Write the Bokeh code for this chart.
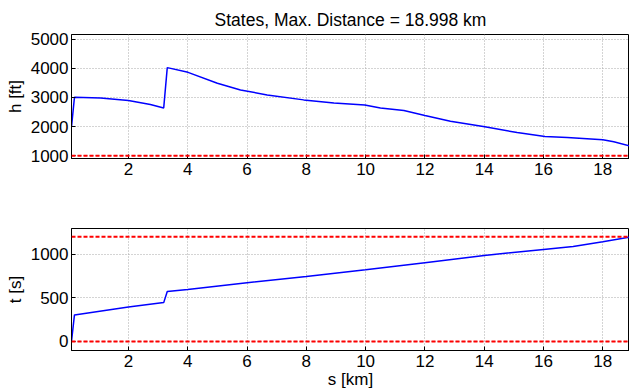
from bokeh.plotting import figure
from bokeh.layouts import column
from bokeh.models import FixedTicker, Span, Range1d
from bokeh.embed import file_html
from bokeh.resources import INLINE

# ---- data ----
title_text = "States, Max. Distance = 18.998 km"
s_h = [0.08, 0.18, 1.06, 2.0, 2.74, 3.19, 3.31, 4.01, 5.0, 5.78, 6.68, 7.91, 8.93,
       9.97, 10.5, 11.29, 12.0, 12.86, 14.02, 15.11, 16.05, 16.8, 18.0, 18.37, 18.998]
h_ft = [1993, 3007, 2986, 2894, 2757, 2643, 4024, 3863, 3486, 3260, 3089, 2918, 2815,
        2746, 2643, 2551, 2380, 2185, 1993, 1798, 1661, 1627, 1548, 1479, 1317]
s_t = [0.08, 0.18, 2.0, 3.19, 3.31, 4.0, 6.0, 8.0, 10.0, 12.0, 14.0, 16.0, 17.0, 18.0, 18.998]
t_s = [0, 304, 395, 445, 571, 594, 673, 745, 822, 902, 985, 1054, 1088, 1142, 1200]
h_limits = [1000]
t_limits = [0, 1200]
x_ticks = [2, 4, 6, 8, 10, 12, 14, 16, 18]
h_ticks = [1000, 2000, 3000, 4000, 5000]
t_ticks = [0, 500, 1000]

FONT = "Liberation Sans"
XR = (0.08, 18.9)


def style(p, yticks, ylabel, xlabel=None):
    p.background_fill_color = "white"
    p.border_fill_color = "white"
    p.outline_line_color = "black"
    p.outline_line_width = 1
    for ax in p.xaxis + p.yaxis:
        ax.major_tick_in = 4
        ax.major_tick_out = 0
        ax.minor_tick_line_color = None
        ax.axis_line_color = "black"
        ax.major_tick_line_color = "black"
        ax.major_label_text_font = FONT
        ax.major_label_text_font_size = "17px"
        ax.major_label_text_color = "black"
        ax.axis_label_text_font = FONT
        ax.axis_label_text_font_size = "17px"
        ax.axis_label_text_font_style = "normal"
        ax.axis_label_text_color = "black"
    p.xaxis.ticker = FixedTicker(ticks=x_ticks)
    p.yaxis.ticker = FixedTicker(ticks=yticks)
    p.xaxis.major_label_standoff = 4
    p.yaxis.major_label_standoff = 3
    p.yaxis.axis_label = ylabel
    p.yaxis.axis_label_standoff = 3
    if xlabel:
        p.xaxis.axis_label = xlabel
        p.xaxis.axis_label_standoff = 0
    p.xgrid.ticker = FixedTicker(ticks=x_ticks)
    p.ygrid.ticker = FixedTicker(ticks=yticks)
    for g in (p.xgrid, p.ygrid):
        g.grid_line_color = "#a8a8a8"
        g.grid_line_dash = "1 2"
        g.grid_line_width = 1


p1 = figure(width=629, height=195, output_backend="svg", toolbar_location=None,
            x_range=Range1d(*XR), y_range=Range1d(907, 5161),
            min_border_left=71, min_border_right=0, min_border_top=34, min_border_bottom=37,
            title=title_text)
p1.title.text_font = FONT
p1.title.text_font_size = "17.5px"
p1.title.text_font_style = "normal"
p1.title.align = "center"
p1.title.text_color = "black"
style(p1, h_ticks, "h [ft]")
p1.line(s_h, h_ft, line_color="#0000ff", line_width=1.5)
for v in h_limits:
    p1.add_layout(Span(location=v, dimension="width", line_color="#ff0000",
                       line_width=2, line_dash="4 2"))

p2 = figure(width=629, height=196, output_backend="svg", toolbar_location=None,
            x_range=Range1d(*XR), y_range=Range1d(-103, 1293),
            min_border_left=71, min_border_right=0, min_border_top=33, min_border_bottom=41)
style(p2, t_ticks, "t [s]", "s [km]")
p2.line(s_t, t_s, line_color="#0000ff", line_width=1.5)
for v in t_limits:
    p2.add_layout(Span(location=v, dimension="width", line_color="#ff0000",
                       line_width=2, line_dash="4 2"))

layout = column(p1, p2, spacing=0)
open("out.html", "w").write(file_html(layout, INLINE))
